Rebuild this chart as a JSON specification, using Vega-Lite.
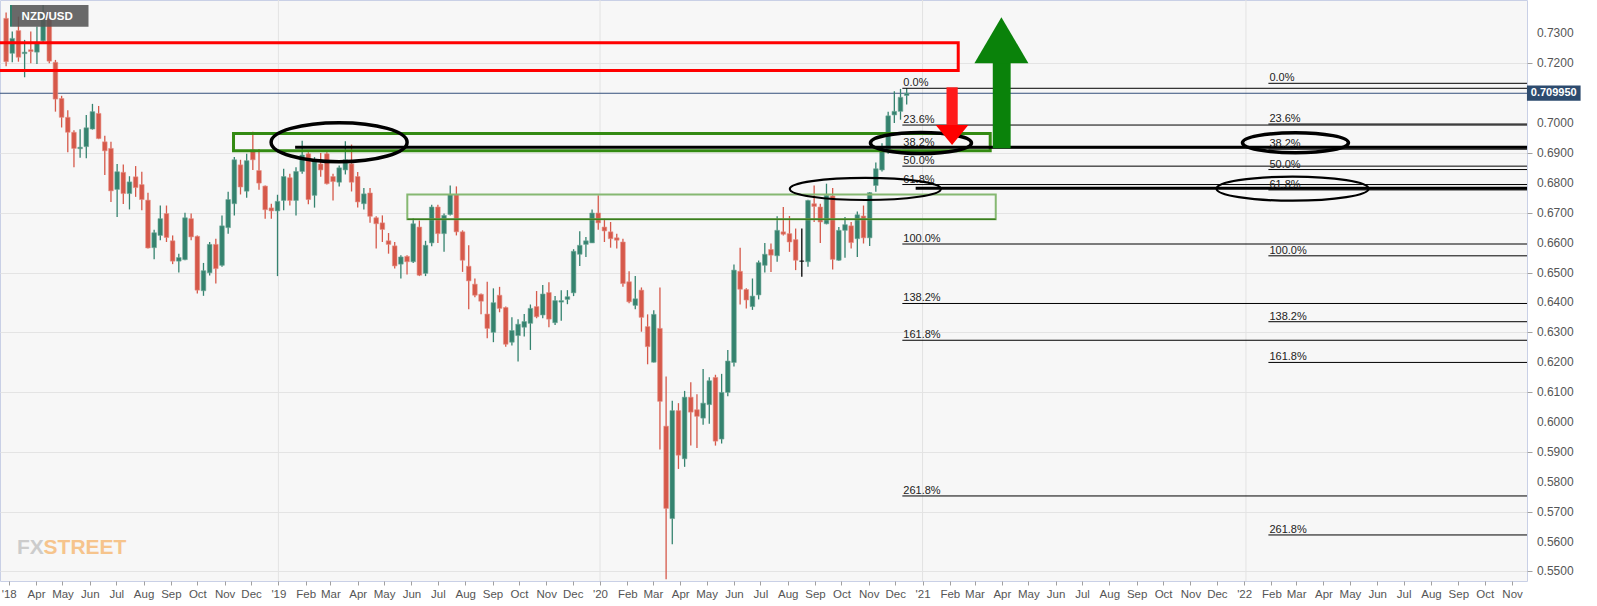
{
 "$schema": "https://vega.github.io/schema/vega-lite/v6.json",
 "width": 1527, "height": 581,
 "autosize": {"type": "none"},
 "padding": {"left": 0, "top": 0, "right": 70, "bottom": 25},
 "background": "#ffffff",
 "config": {
  "view": {"stroke": "#c9d0e6", "strokeWidth": 1, "fill": "#f7f7f7"},
  "axis": {"labelOverlap": false}
 },
 "datasets": {
  "candles": [
   {"d":"2018-02-26","o":0.7350,"h":0.7370,"l":0.7190,"c":0.7205},
   {"d":"2018-03-05","o":0.7233,"h":0.7306,"l":0.7203,"c":0.7283},
   {"d":"2018-03-12","o":0.7309,"h":0.7356,"l":0.7205,"c":0.7220},
   {"d":"2018-03-19","o":0.7232,"h":0.7278,"l":0.7153,"c":0.7237},
   {"d":"2018-03-26","o":0.7245,"h":0.7306,"l":0.7200,"c":0.7239},
   {"d":"2018-04-02","o":0.7237,"h":0.7323,"l":0.7197,"c":0.7267},
   {"d":"2018-04-09","o":0.7275,"h":0.7395,"l":0.7265,"c":0.7367},
   {"d":"2018-04-16","o":0.7350,"h":0.7367,"l":0.7200,"c":0.7207},
   {"d":"2018-04-23","o":0.7203,"h":0.7211,"l":0.7038,"c":0.7080},
   {"d":"2018-04-30","o":0.7082,"h":0.7091,"l":0.6985,"c":0.7019},
   {"d":"2018-05-07","o":0.7019,"h":0.7043,"l":0.6902,"c":0.6969},
   {"d":"2018-05-14","o":0.6969,"h":0.6976,"l":0.6852,"c":0.6915},
   {"d":"2018-05-21","o":0.6914,"h":0.6979,"l":0.6884,"c":0.6919},
   {"d":"2018-05-28","o":0.6921,"h":0.7027,"l":0.6882,"c":0.6984},
   {"d":"2018-06-04","o":0.6980,"h":0.7064,"l":0.6978,"c":0.7038},
   {"d":"2018-06-11","o":0.7032,"h":0.7057,"l":0.6946,"c":0.6948},
   {"d":"2018-06-18","o":0.6937,"h":0.6957,"l":0.6826,"c":0.6907},
   {"d":"2018-06-25","o":0.6915,"h":0.6937,"l":0.6736,"c":0.6773},
   {"d":"2018-07-02","o":0.6778,"h":0.6863,"l":0.6686,"c":0.6837},
   {"d":"2018-07-09","o":0.6835,"h":0.6861,"l":0.6729,"c":0.6764},
   {"d":"2018-07-16","o":0.6764,"h":0.6822,"l":0.6711,"c":0.6803},
   {"d":"2018-07-23","o":0.6820,"h":0.6856,"l":0.6753,"c":0.6784},
   {"d":"2018-07-30","o":0.6794,"h":0.6837,"l":0.6708,"c":0.6744},
   {"d":"2018-08-06","o":0.6742,"h":0.6767,"l":0.6580,"c":0.6582},
   {"d":"2018-08-13","o":0.6583,"h":0.6643,"l":0.6544,"c":0.6633},
   {"d":"2018-08-20","o":0.6624,"h":0.6724,"l":0.6608,"c":0.6680},
   {"d":"2018-08-27","o":0.6697,"h":0.6724,"l":0.6602,"c":0.6617},
   {"d":"2018-09-03","o":0.6606,"h":0.6624,"l":0.6528,"c":0.6538},
   {"d":"2018-09-10","o":0.6538,"h":0.6563,"l":0.6500,"c":0.6550},
   {"d":"2018-09-17","o":0.6543,"h":0.6700,"l":0.6541,"c":0.6683},
   {"d":"2018-09-24","o":0.6680,"h":0.6697,"l":0.6608,"c":0.6619},
   {"d":"2018-10-01","o":0.6621,"h":0.6624,"l":0.6430,"c":0.6441},
   {"d":"2018-10-08","o":0.6439,"h":0.6532,"l":0.6422,"c":0.6506},
   {"d":"2018-10-15","o":0.6499,"h":0.6602,"l":0.6490,"c":0.6594},
   {"d":"2018-10-22","o":0.6594,"h":0.6613,"l":0.6463,"c":0.6513},
   {"d":"2018-10-29","o":0.6524,"h":0.6691,"l":0.6519,"c":0.6656},
   {"d":"2018-11-05","o":0.6650,"h":0.6770,"l":0.6630,"c":0.6744},
   {"d":"2018-11-12","o":0.6730,"h":0.6886,"l":0.6691,"c":0.6877},
   {"d":"2018-11-19","o":0.6860,"h":0.6877,"l":0.6761,"c":0.6786},
   {"d":"2018-11-26","o":0.6772,"h":0.6897,"l":0.6750,"c":0.6874},
   {"d":"2018-12-03","o":0.6910,"h":0.6971,"l":0.6843,"c":0.6877},
   {"d":"2018-12-10","o":0.6841,"h":0.6913,"l":0.6777,"c":0.6799},
   {"d":"2018-12-17","o":0.6789,"h":0.6791,"l":0.6680,"c":0.6710},
   {"d":"2018-12-24","o":0.6716,"h":0.6730,"l":0.6680,"c":0.6706},
   {"d":"2018-12-31","o":0.6706,"h":0.6760,"l":0.6488,"c":0.6738},
   {"d":"2019-01-07","o":0.6741,"h":0.6847,"l":0.6708,"c":0.6821},
   {"d":"2019-01-14","o":0.6817,"h":0.6830,"l":0.6724,"c":0.6741},
   {"d":"2019-01-21","o":0.6741,"h":0.6852,"l":0.6691,"c":0.6838},
   {"d":"2019-01-28","o":0.6838,"h":0.6941,"l":0.6830,"c":0.6893},
   {"d":"2019-02-04","o":0.6897,"h":0.6902,"l":0.6728,"c":0.6744},
   {"d":"2019-02-11","o":0.6758,"h":0.6886,"l":0.6717,"c":0.6874},
   {"d":"2019-02-18","o":0.6863,"h":0.6900,"l":0.6820,"c":0.6843},
   {"d":"2019-02-25","o":0.6897,"h":0.6902,"l":0.6794,"c":0.6797},
   {"d":"2019-03-04","o":0.6821,"h":0.6830,"l":0.6741,"c":0.6804},
   {"d":"2019-03-11","o":0.6802,"h":0.6858,"l":0.6788,"c":0.6850},
   {"d":"2019-03-18","o":0.6843,"h":0.6939,"l":0.6828,"c":0.6877},
   {"d":"2019-03-25","o":0.6863,"h":0.6928,"l":0.6771,"c":0.6802},
   {"d":"2019-04-01","o":0.6821,"h":0.6836,"l":0.6717,"c":0.6736},
   {"d":"2019-04-08","o":0.6730,"h":0.6783,"l":0.6711,"c":0.6763},
   {"d":"2019-04-15","o":0.6766,"h":0.6783,"l":0.6666,"c":0.6688},
   {"d":"2019-04-22","o":0.6683,"h":0.6688,"l":0.6580,"c":0.6663},
   {"d":"2019-04-29","o":0.6666,"h":0.6691,"l":0.6602,"c":0.6644},
   {"d":"2019-05-06","o":0.6606,"h":0.6632,"l":0.6563,"c":0.6594},
   {"d":"2019-05-13","o":0.6589,"h":0.6602,"l":0.6513,"c":0.6522},
   {"d":"2019-05-20","o":0.6528,"h":0.6558,"l":0.6480,"c":0.6552},
   {"d":"2019-05-27","o":0.6554,"h":0.6558,"l":0.6493,"c":0.6536},
   {"d":"2019-06-03","o":0.6536,"h":0.6682,"l":0.6532,"c":0.6663},
   {"d":"2019-06-10","o":0.6652,"h":0.6674,"l":0.6488,"c":0.6491},
   {"d":"2019-06-17","o":0.6497,"h":0.6606,"l":0.6488,"c":0.6591},
   {"d":"2019-06-24","o":0.6599,"h":0.6727,"l":0.6588,"c":0.6719},
   {"d":"2019-07-01","o":0.6719,"h":0.6727,"l":0.6599,"c":0.6630},
   {"d":"2019-07-08","o":0.6630,"h":0.6697,"l":0.6569,"c":0.6691},
   {"d":"2019-07-15","o":0.6694,"h":0.6791,"l":0.6691,"c":0.6761},
   {"d":"2019-07-22","o":0.6760,"h":0.6788,"l":0.6624,"c":0.6636},
   {"d":"2019-07-29","o":0.6636,"h":0.6641,"l":0.6502,"c":0.6541},
   {"d":"2019-08-05","o":0.6521,"h":0.6591,"l":0.6377,"c":0.6472},
   {"d":"2019-08-12","o":0.6461,"h":0.6480,"l":0.6417,"c":0.6424},
   {"d":"2019-08-19","o":0.6427,"h":0.6430,"l":0.6360,"c":0.6404},
   {"d":"2019-08-26","o":0.6361,"h":0.6469,"l":0.6280,"c":0.6313},
   {"d":"2019-09-02","o":0.6300,"h":0.6447,"l":0.6267,"c":0.6399},
   {"d":"2019-09-09","o":0.6424,"h":0.6452,"l":0.6367,"c":0.6380},
   {"d":"2019-09-16","o":0.6383,"h":0.6386,"l":0.6252,"c":0.6260},
   {"d":"2019-09-23","o":0.6267,"h":0.6350,"l":0.6256,"c":0.6306},
   {"d":"2019-09-30","o":0.6289,"h":0.6344,"l":0.6202,"c":0.6327},
   {"d":"2019-10-07","o":0.6317,"h":0.6361,"l":0.6286,"c":0.6336},
   {"d":"2019-10-14","o":0.6330,"h":0.6393,"l":0.6241,"c":0.6380},
   {"d":"2019-10-21","o":0.6386,"h":0.6438,"l":0.6347,"c":0.6352},
   {"d":"2019-10-28","o":0.6358,"h":0.6458,"l":0.6347,"c":0.6428},
   {"d":"2019-11-04","o":0.6433,"h":0.6467,"l":0.6317,"c":0.6344},
   {"d":"2019-11-11","o":0.6332,"h":0.6421,"l":0.6324,"c":0.6406},
   {"d":"2019-11-18","o":0.6401,"h":0.6441,"l":0.6339,"c":0.6406},
   {"d":"2019-11-25","o":0.6410,"h":0.6441,"l":0.6394,"c":0.6419},
   {"d":"2019-12-02","o":0.6432,"h":0.6578,"l":0.6421,"c":0.6571},
   {"d":"2019-12-09","o":0.6561,"h":0.6638,"l":0.6522,"c":0.6591},
   {"d":"2019-12-16","o":0.6594,"h":0.6619,"l":0.6552,"c":0.6606},
   {"d":"2019-12-23","o":0.6599,"h":0.6711,"l":0.6599,"c":0.6699},
   {"d":"2019-12-30","o":0.6699,"h":0.6758,"l":0.6643,"c":0.6666},
   {"d":"2020-01-06","o":0.6652,"h":0.6680,"l":0.6602,"c":0.6639},
   {"d":"2020-01-13","o":0.6636,"h":0.6669,"l":0.6583,"c":0.6613},
   {"d":"2020-01-20","o":0.6616,"h":0.6630,"l":0.6580,"c":0.6608},
   {"d":"2020-01-27","o":0.6602,"h":0.6613,"l":0.6452,"c":0.6463},
   {"d":"2020-02-03","o":0.6469,"h":0.6504,"l":0.6397,"c":0.6402},
   {"d":"2020-02-10","o":0.6390,"h":0.6488,"l":0.6377,"c":0.6412},
   {"d":"2020-02-17","o":0.6441,"h":0.6450,"l":0.6302,"c":0.6350},
   {"d":"2020-02-24","o":0.6319,"h":0.6360,"l":0.6193,"c":0.6252},
   {"d":"2020-03-02","o":0.6200,"h":0.6374,"l":0.6199,"c":0.6360},
   {"d":"2020-03-09","o":0.6313,"h":0.6450,"l":0.5908,"c":0.6069},
   {"d":"2020-03-16","o":0.5986,"h":0.6152,"l":0.5474,"c":0.5711},
   {"d":"2020-03-23","o":0.5677,"h":0.6071,"l":0.5591,"c":0.6038},
   {"d":"2020-03-30","o":0.6038,"h":0.6063,"l":0.5843,"c":0.5889},
   {"d":"2020-04-06","o":0.5877,"h":0.6104,"l":0.5850,"c":0.6083},
   {"d":"2020-04-13","o":0.6083,"h":0.6133,"l":0.5921,"c":0.6033},
   {"d":"2020-04-20","o":0.6041,"h":0.6093,"l":0.5913,"c":0.6019},
   {"d":"2020-04-27","o":0.6013,"h":0.6177,"l":0.5991,"c":0.6063},
   {"d":"2020-05-04","o":0.6058,"h":0.6150,"l":0.5994,"c":0.6138},
   {"d":"2020-05-11","o":0.6149,"h":0.6158,"l":0.5921,"c":0.5936},
   {"d":"2020-05-18","o":0.5943,"h":0.6161,"l":0.5928,"c":0.6099},
   {"d":"2020-05-25","o":0.6099,"h":0.6241,"l":0.6086,"c":0.6204},
   {"d":"2020-06-01","o":0.6199,"h":0.6527,"l":0.6186,"c":0.6508},
   {"d":"2020-06-08","o":0.6504,"h":0.6583,"l":0.6393,"c":0.6444},
   {"d":"2020-06-15","o":0.6443,"h":0.6447,"l":0.6380,"c":0.6408},
   {"d":"2020-06-22","o":0.6386,"h":0.6480,"l":0.6375,"c":0.6421},
   {"d":"2020-06-29","o":0.6425,"h":0.6540,"l":0.6410,"c":0.6533},
   {"d":"2020-07-06","o":0.6524,"h":0.6599,"l":0.6500,"c":0.6561},
   {"d":"2020-07-13","o":0.6577,"h":0.6597,"l":0.6502,"c":0.6558},
   {"d":"2020-07-20","o":0.6556,"h":0.6688,"l":0.6536,"c":0.6641},
   {"d":"2020-07-27","o":0.6636,"h":0.6719,"l":0.6624,"c":0.6628},
   {"d":"2020-08-03","o":0.6630,"h":0.6689,"l":0.6569,"c":0.6602},
   {"d":"2020-08-10","o":0.6610,"h":0.6647,"l":0.6508,"c":0.6541},
   {"d":"2020-08-17","o":0.6538,"h":0.6647,"l":0.6486,"c":0.6538},
   {"d":"2020-08-24","o":0.6536,"h":0.6743,"l":0.6519,"c":0.6741},
   {"d":"2020-08-31","o":0.6730,"h":0.6791,"l":0.6669,"c":0.6721},
   {"d":"2020-09-07","o":0.6719,"h":0.6730,"l":0.6599,"c":0.6669},
   {"d":"2020-09-14","o":0.6663,"h":0.6797,"l":0.6661,"c":0.6758},
   {"d":"2020-09-21","o":0.6756,"h":0.6783,"l":0.6510,"c":0.6544},
   {"d":"2020-09-28","o":0.6541,"h":0.6652,"l":0.6539,"c":0.6641},
   {"d":"2020-10-05","o":0.6641,"h":0.6686,"l":0.6549,"c":0.6660},
   {"d":"2020-10-12","o":0.6656,"h":0.6669,"l":0.6580,"c":0.6600},
   {"d":"2020-10-19","o":0.6613,"h":0.6704,"l":0.6552,"c":0.6693},
   {"d":"2020-10-26","o":0.6689,"h":0.6724,"l":0.6597,"c":0.6616},
   {"d":"2020-11-02","o":0.6616,"h":0.6769,"l":0.6589,"c":0.6767},
   {"d":"2020-11-09","o":0.6791,"h":0.6868,"l":0.6770,"c":0.6847},
   {"d":"2020-11-16","o":0.6843,"h":0.6932,"l":0.6838,"c":0.6908},
   {"d":"2020-11-23","o":0.6913,"h":0.7038,"l":0.6897,"c":0.7024},
   {"d":"2020-11-30","o":0.7027,"h":0.7106,"l":0.7000,"c":0.7039},
   {"d":"2020-12-07","o":0.7039,"h":0.7114,"l":0.7011,"c":0.7086},
   {"d":"2020-12-14","o":0.7092,"h":0.7116,"l":0.7062,"c":0.70995}
  ],
  "fib": [
   {"d":"2020-12-09T02:00Z","d2":"2023-06-01","p":0.71161,"t":"0.0%"},
   {"d":"2020-12-09T02:00Z","d2":"2023-06-01","p":0.69932,"t":"23.6%"},
   {"d":"2020-12-09T02:00Z","d2":"2023-06-01","p":0.69172,"t":"38.2%"},
   {"d":"2020-12-09T02:00Z","d2":"2023-06-01","p":0.68557,"t":"50.0%"},
   {"d":"2020-12-09T02:00Z","d2":"2023-06-01","p":0.67942,"t":"61.8%"},
   {"d":"2020-12-09T02:00Z","d2":"2023-06-01","p":0.65953,"t":"100.0%"},
   {"d":"2020-12-09T02:00Z","d2":"2023-06-01","p":0.63964,"t":"138.2%"},
   {"d":"2020-12-09T02:00Z","d2":"2023-06-01","p":0.62734,"t":"161.8%"},
   {"d":"2020-12-09T02:00Z","d2":"2023-06-01","p":0.57526,"t":"261.8%"},
   {"d":"2022-01-28T12:00Z","d2":"2023-06-01","p":0.71328,"t":"0.0%"},
   {"d":"2022-01-28T12:00Z","d2":"2023-06-01","p":0.69966,"t":"23.6%"},
   {"d":"2022-01-28T12:00Z","d2":"2023-06-01","p":0.69124,"t":"38.2%"},
   {"d":"2022-01-28T12:00Z","d2":"2023-06-01","p":0.68443,"t":"50.0%"},
   {"d":"2022-01-28T12:00Z","d2":"2023-06-01","p":0.67762,"t":"61.8%"},
   {"d":"2022-01-28T12:00Z","d2":"2023-06-01","p":0.65558,"t":"100.0%"},
   {"d":"2022-01-28T12:00Z","d2":"2023-06-01","p":0.63354,"t":"138.2%"},
   {"d":"2022-01-28T12:00Z","d2":"2023-06-01","p":0.61992,"t":"161.8%"},
   {"d":"2022-01-28T12:00Z","d2":"2023-06-01","p":0.56222,"t":"261.8%"}
  ],
  "ylabels": [
   {"d":"2022-11-29T05:00Z","p":0.55,"t":"0.5500"},
   {"d":"2022-11-29T05:00Z","p":0.56,"t":"0.5600"},
   {"d":"2022-11-29T05:00Z","p":0.57,"t":"0.5700"},
   {"d":"2022-11-29T05:00Z","p":0.58,"t":"0.5800"},
   {"d":"2022-11-29T05:00Z","p":0.59,"t":"0.5900"},
   {"d":"2022-11-29T05:00Z","p":0.60,"t":"0.6000"},
   {"d":"2022-11-29T05:00Z","p":0.61,"t":"0.6100"},
   {"d":"2022-11-29T05:00Z","p":0.62,"t":"0.6200"},
   {"d":"2022-11-29T05:00Z","p":0.63,"t":"0.6300"},
   {"d":"2022-11-29T05:00Z","p":0.64,"t":"0.6400"},
   {"d":"2022-11-29T05:00Z","p":0.65,"t":"0.6500"},
   {"d":"2022-11-29T05:00Z","p":0.66,"t":"0.6600"},
   {"d":"2022-11-29T05:00Z","p":0.67,"t":"0.6700"},
   {"d":"2022-11-29T05:00Z","p":0.68,"t":"0.6800"},
   {"d":"2022-11-29T05:00Z","p":0.69,"t":"0.6900"},
   {"d":"2022-11-29T05:00Z","p":0.70,"t":"0.7000"},
   {"d":"2022-11-29T05:00Z","p":0.72,"t":"0.7200"},
   {"d":"2022-11-29T05:00Z","p":0.73,"t":"0.7300"}
  ]
 },
 "layer": [
  {"data": {"values": [{"d":"2019-01-01"},{"d":"2020-01-01"},{"d":"2021-01-01"},{"d":"2022-01-03"}]},
   "mark": {"type": "rule", "color": "#e3e3e3", "strokeWidth": 1},
   "encoding": {"x": {"field":"d","type":"temporal","title":null,"scale":{"type":"utc","domain":[1519495200000,1668236400000]}}}},
  {"data": {"values": [{"p":0.70995}]},
   "mark": {"type": "rule", "color": "#34507c", "strokeWidth": 1},
   "encoding": {"y": {"field":"p","type":"quantitative","title":null,"scale":{"domain":[0.54682,0.74114],"zero":false,"nice":false}}}},
  {"data": {"name": "candles"},
   "mark": {"type": "rule", "strokeWidth": 1.3},
   "encoding": {
    "x": {"field":"d","type":"temporal","title":null,"scale":{"type":"utc","domain":[1519495200000,1668236400000]},
      "axis":{"title":null,"orient":"bottom","grid":false,"domain":false,"tickCount":{"interval":"month","step":1},"tickSize":4,"tickColor":"#a0a0a0","labelPadding":3,"labelFont":"Liberation Sans Narrow, Liberation Sans","labelFontSize":11.5,"labelColor":"#555555","labelOverlap":false,"labelFlush":false,"labelBound":false,
      "labelExpr":"utcmonth(datum.value) == 0 || (utcyear(datum.value) == 2018 && utcmonth(datum.value) == 2) ? \"'\" + utcFormat(datum.value, '%y') : utcFormat(datum.value, '%b')"}},
    "y": {"field":"l","type":"quantitative","title":null,"scale":{"domain":[0.54682,0.74114],"zero":false,"nice":false},
      "axis":{"title":null,"orient":"right","values":[0.55,0.56,0.57,0.58,0.59,0.6,0.61,0.62,0.63,0.64,0.65,0.66,0.67,0.68,0.69,0.7,0.72,0.73],"labels":false,"grid":true,"gridColor":"#e4e4e4","gridWidth":1,"domain":false,"tickSize":5,"tickColor":"#a0a0a0"}},
    "y2": {"field":"h"},
    "color": {"condition":[{"test":"datum.c > datum.o","value":"#35836f"},{"test":"datum.c < datum.o","value":"#d6594a"}],"value":"#000000"}
   }},
  {"data": {"name": "candles"},
   "mark": {"type": "bar", "width": 4.6, "strokeWidth": 0.6},
   "encoding": {
    "x": {"field":"d","type":"temporal","title":null,"scale":{"type":"utc","domain":[1519495200000,1668236400000]}},
    "y": {"field":"o","type":"quantitative","title":null,"scale":{"domain":[0.54682,0.74114],"zero":false,"nice":false}},
    "y2": {"field":"c"},
    "color": {"condition":[{"test":"datum.c > datum.o","value":"#35836f"},{"test":"datum.c < datum.o","value":"#d6594a"}],"value":"#000000"},
    "stroke": {"condition":[{"test":"datum.c > datum.o","value":"#6fa797"},{"test":"datum.c < datum.o","value":"#e58f84"}],"value":"#000000"}
   }},
  {"data": {"values": [{"d":"2018-01-01","d2":"2021-02-10T12:00Z","p":0.72682,"p2":0.71756}]},
   "mark": {"type": "rect", "filled": false, "color": "#ff0000", "strokeWidth": 3, "clip": true},
   "encoding": {
    "x": {"field":"d","type":"temporal","title":null,"scale":{"type":"utc","domain":[1519495200000,1668236400000]}},
    "x2": {"field":"d2"},
    "y": {"field":"p","type":"quantitative","title":null,"scale":{"domain":[0.54682,0.74114],"zero":false,"nice":false}},
    "y2": {"field":"p2"}}},
  {"data": {"values": [{"d":"2019-05-27T07:00Z","d2":"2021-03-25T02:00Z","p":0.67609,"p2":0.66783}]},
   "mark": {"type": "rect", "filled": false, "color": "#86b872", "strokeWidth": 2},
   "encoding": {
    "x": {"field":"d","type":"temporal","title":null,"scale":{"type":"utc","domain":[1519495200000,1668236400000]}},
    "x2": {"field":"d2"},
    "y": {"field":"p","type":"quantitative","title":null,"scale":{"domain":[0.54682,0.74114],"zero":false,"nice":false}},
    "y2": {"field":"p2"}}},
  {"data": {"values": [{"d":"2019-05-27T07:00Z","d2":"2021-03-25T02:00Z","p":0.66783}]},
   "mark": {"type": "rule", "color": "#3a7d1e", "strokeWidth": 1.5},
   "encoding": {
    "x": {"field":"d","type":"temporal","title":null,"scale":{"type":"utc","domain":[1519495200000,1668236400000]}},
    "x2": {"field":"d2"},
    "y": {"field":"p","type":"quantitative","title":null,"scale":{"domain":[0.54682,0.74114],"zero":false,"nice":false}}}},
  {"data": {"values": [{"d":"2018-11-11T02:00Z","d2":"2021-03-18T19:00Z","p":0.69649,"p2":0.69075}]},
   "mark": {"type": "rect", "filled": false, "color": "#338a12", "strokeWidth": 3},
   "encoding": {
    "x": {"field":"d","type":"temporal","title":null,"scale":{"type":"utc","domain":[1519495200000,1668236400000]}},
    "x2": {"field":"d2"},
    "y": {"field":"p","type":"quantitative","title":null,"scale":{"domain":[0.54682,0.74114],"zero":false,"nice":false}},
    "y2": {"field":"p2"}}},
  {"data": {"name": "fib"},
   "mark": {"type": "rule", "color": "#000000", "strokeWidth": 1, "clip": true},
   "encoding": {
    "x": {"field":"d","type":"temporal","title":null,"scale":{"type":"utc","domain":[1519495200000,1668236400000]}},
    "x2": {"field":"d2"},
    "y": {"field":"p","type":"quantitative","title":null,"scale":{"domain":[0.54682,0.74114],"zero":false,"nice":false}}}},
  {"data": {"values": [{"d":"2019-01-20","d2":"2023-06-01","p":0.69187},{"d":"2020-12-24T05:00Z","d2":"2023-06-01","p":0.67816}]},
   "mark": {"type": "rule", "color": "#000000", "strokeWidth": 3, "clip": true},
   "encoding": {
    "x": {"field":"d","type":"temporal","title":null,"scale":{"type":"utc","domain":[1519495200000,1668236400000]}},
    "x2": {"field":"d2"},
    "y": {"field":"p","type":"quantitative","title":null,"scale":{"domain":[0.54682,0.74114],"zero":false,"nice":false}}}},
  {"data": {"name": "fib"},
   "mark": {"type": "text", "align": "left", "baseline": "alphabetic", "dx": 1, "dy": -2, "font": "Liberation Sans", "fontSize": 11, "color": "#222222"},
   "encoding": {
    "x": {"field":"d","type":"temporal","title":null,"scale":{"type":"utc","domain":[1519495200000,1668236400000]}},
    "y": {"field":"p","type":"quantitative","title":null,"scale":{"domain":[0.54682,0.74114],"zero":false,"nice":false}},
    "text": {"field":"t"}}},
  {"data": {"name": "ylabels"},
   "mark": {"type": "text", "align": "left", "baseline": "middle", "font": "Liberation Sans", "fontSize": 12, "color": "#555555", "clip": false},
   "encoding": {
    "x": {"field":"d","type":"temporal","title":null,"scale":{"type":"utc","domain":[1519495200000,1668236400000]}},
    "y": {"field":"p","type":"quantitative","title":null,"scale":{"domain":[0.54682,0.74114],"zero":false,"nice":false}},
    "text": {"field":"t"}}},
  {"data": {"values": [{"d":"2019-03-10T21:36Z","p":0.69358}]},
   "mark": {"type": "point", "filled": false, "stroke": "#000000", "strokeWidth": 3.5, "opacity": 1, "size": 18496,
     "shape": "M-1,0C-1,-0.159,-0.552,-0.287,0,-0.287C0.552,-0.287,1,-0.159,1,0C1,0.159,0.552,0.287,0,0.287C-0.552,0.287,-1,0.159,-1,0Z"},
   "encoding": {
    "x": {"field":"d","type":"temporal","title":null,"scale":{"type":"utc","domain":[1519495200000,1668236400000]}},
    "y": {"field":"p","type":"quantitative","title":null,"scale":{"domain":[0.54682,0.74114],"zero":false,"nice":false}}}},
  {"data": {"values": [{"d":"2020-12-30T05:00Z","p":0.69331}]},
   "mark": {"type": "point", "filled": false, "stroke": "#000000", "strokeWidth": 3.5, "opacity": 1, "size": 10201,
     "shape": "M-1,0C-1,-0.115,-0.552,-0.208,0,-0.208C0.552,-0.208,1,-0.115,1,0C1,0.115,0.552,0.208,0,0.208C-0.552,0.208,-1,0.115,-1,0Z"},
   "encoding": {
    "x": {"field":"d","type":"temporal","title":null,"scale":{"type":"utc","domain":[1519495200000,1668236400000]}},
    "y": {"field":"p","type":"quantitative","title":null,"scale":{"domain":[0.54682,0.74114],"zero":false,"nice":false}}}},
  {"data": {"values": [{"d":"2022-02-28T05:00Z","p":0.69341}]},
   "mark": {"type": "point", "filled": false, "stroke": "#000000", "strokeWidth": 3.5, "opacity": 1, "size": 11236,
     "shape": "M-1,0C-1,-0.104,-0.552,-0.189,0,-0.189C0.552,-0.189,1,-0.104,1,0C1,0.104,0.552,0.189,0,0.189C-0.552,0.189,-1,0.104,-1,0Z"},
   "encoding": {
    "x": {"field":"d","type":"temporal","title":null,"scale":{"type":"utc","domain":[1519495200000,1668236400000]}},
    "y": {"field":"p","type":"quantitative","title":null,"scale":{"domain":[0.54682,0.74114],"zero":false,"nice":false}}}},
  {"data": {"values": [{"d":"2020-10-28T02:00Z","p":0.67794}]},
   "mark": {"type": "point", "filled": false, "stroke": "#000000", "strokeWidth": 2.2, "opacity": 1, "size": 22801,
     "shape": "M-1,0C-1,-0.081,-0.552,-0.146,0,-0.146C0.552,-0.146,1,-0.081,1,0C1,0.081,0.552,0.146,0,0.146C-0.552,0.146,-1,0.081,-1,0Z"},
   "encoding": {
    "x": {"field":"d","type":"temporal","title":null,"scale":{"type":"utc","domain":[1519495200000,1668236400000]}},
    "y": {"field":"p","type":"quantitative","title":null,"scale":{"domain":[0.54682,0.74114],"zero":false,"nice":false}}}},
  {"data": {"values": [{"d":"2022-02-24T22:00Z","p":0.67803}]},
   "mark": {"type": "point", "filled": false, "stroke": "#000000", "strokeWidth": 2.2, "opacity": 1, "size": 23104,
     "shape": "M-1,0C-1,-0.087,-0.552,-0.158,0,-0.158C0.552,-0.158,1,-0.087,1,0C1,0.087,0.552,0.158,0,0.158C-0.552,0.158,-1,0.087,-1,0Z"},
   "encoding": {
    "x": {"field":"d","type":"temporal","title":null,"scale":{"type":"utc","domain":[1519495200000,1668236400000]}},
    "y": {"field":"p","type":"quantitative","title":null,"scale":{"domain":[0.54682,0.74114],"zero":false,"nice":false}}}},
  {"data": {"values": [{"d":"2021-01-28T05:00Z","d2":"2021-02-09T22:00Z","p":0.71194,"p2":0.6990}]},
   "mark": {"type": "rect", "color": "#ff1a1a"},
   "encoding": {
    "x": {"field":"d","type":"temporal","title":null,"scale":{"type":"utc","domain":[1519495200000,1668236400000]}},
    "x2": {"field":"d2"},
    "y": {"field":"p","type":"quantitative","title":null,"scale":{"domain":[0.54682,0.74114],"zero":false,"nice":false}},
    "y2": {"field":"p2"}}},
  {"data": {"values": [{"d":"2021-02-03T12:00Z","p":0.69599}]},
   "mark": {"type": "point", "filled": true, "color": "#ff0000", "opacity": 1, "size": 1069, "shape": "M-1,-0.612L1,-0.612L0,0.612Z"},
   "encoding": {
    "x": {"field":"d","type":"temporal","title":null,"scale":{"type":"utc","domain":[1519495200000,1668236400000]}},
    "y": {"field":"p","type":"quantitative","title":null,"scale":{"domain":[0.54682,0.74114],"zero":false,"nice":false}}}},
  {"data": {"values": [{"d":"2021-03-21T17:00Z","d2":"2021-04-11T00:00Z","p":0.72107,"p2":0.69154}]},
   "mark": {"type": "rect", "color": "#0a820a"},
   "encoding": {
    "x": {"field":"d","type":"temporal","title":null,"scale":{"type":"utc","domain":[1519495200000,1668236400000]}},
    "x2": {"field":"d2"},
    "y": {"field":"p","type":"quantitative","title":null,"scale":{"domain":[0.54682,0.74114],"zero":false,"nice":false}},
    "y2": {"field":"p2"}}},
  {"data": {"values": [{"d":"2021-03-31T12:00Z","p":0.72769}]},
   "mark": {"type": "point", "filled": true, "color": "#0a820a", "opacity": 1, "size": 2916, "shape": "M-1,0.852L1,0.852L0,-0.852Z"},
   "encoding": {
    "x": {"field":"d","type":"temporal","title":null,"scale":{"type":"utc","domain":[1519495200000,1668236400000]}},
    "y": {"field":"p","type":"quantitative","title":null,"scale":{"domain":[0.54682,0.74114],"zero":false,"nice":false}}}},
  {"data": {"values": [{"d":"2018-03-04T14:00Z","d2":"2018-05-30T12:00Z","p":0.73947,"p2":0.73221}]},
   "mark": {"type": "rect", "color": "#555555", "opacity": 0.88},
   "encoding": {
    "x": {"field":"d","type":"temporal","title":null,"scale":{"type":"utc","domain":[1519495200000,1668236400000]}},
    "x2": {"field":"d2"},
    "y": {"field":"p","type":"quantitative","title":null,"scale":{"domain":[0.54682,0.74114],"zero":false,"nice":false}},
    "y2": {"field":"p2"}}},
  {"data": {"values": [{"d":"2018-03-02T10:00Z","d2":"2018-03-04T17:00Z","p":0.73947,"p2":0.73221}]},
   "mark": {"type": "rect", "color": "#2f7f6a"},
   "encoding": {
    "x": {"field":"d","type":"temporal","title":null,"scale":{"type":"utc","domain":[1519495200000,1668236400000]}},
    "x2": {"field":"d2"},
    "y": {"field":"p","type":"quantitative","title":null,"scale":{"domain":[0.54682,0.74114],"zero":false,"nice":false}},
    "y2": {"field":"p2"}}},
  {"data": {"values": [{"d":"2018-03-15T14:00Z","p":0.73562,"t":"NZD/USD"}]},
   "mark": {"type": "text", "align": "left", "baseline": "middle", "font": "Liberation Sans", "fontWeight": "bold", "fontSize": 11.5, "color": "#ffffff"},
   "encoding": {
    "x": {"field":"d","type":"temporal","title":null,"scale":{"type":"utc","domain":[1519495200000,1668236400000]}},
    "y": {"field":"p","type":"quantitative","title":null,"scale":{"domain":[0.54682,0.74114],"zero":false,"nice":false}},
    "text": {"field":"t"}}},
  {"data": {"values": [{"d":"2018-03-10T07:00Z","p":0.55786,"t":"FX"}]},
   "mark": {"type": "text", "align": "left", "baseline": "middle", "font": "Liberation Sans", "fontWeight": "bold", "fontSize": 21, "color": "#cccccc"},
   "encoding": {
    "x": {"field":"d","type":"temporal","title":null,"scale":{"type":"utc","domain":[1519495200000,1668236400000]}},
    "y": {"field":"p","type":"quantitative","title":null,"scale":{"domain":[0.54682,0.74114],"zero":false,"nice":false}},
    "text": {"field":"t"}}},
  {"data": {"values": [{"d":"2018-04-09T12:00Z","p":0.55786,"t":"STREET"}]},
   "mark": {"type": "text", "align": "left", "baseline": "middle", "font": "Liberation Sans", "fontWeight": "bold", "fontSize": 21, "color": "#f6c48c"},
   "encoding": {
    "x": {"field":"d","type":"temporal","title":null,"scale":{"type":"utc","domain":[1519495200000,1668236400000]}},
    "y": {"field":"p","type":"quantitative","title":null,"scale":{"domain":[0.54682,0.74114],"zero":false,"nice":false}},
    "text": {"field":"t"}}},
  {"data": {"values": [{"d":"2022-11-17T22:00Z","d2":"2023-01-17T19:00Z","p":0.71254,"p2":0.70742}]},
   "mark": {"type": "rect", "color": "#2d4b6e", "clip": false},
   "encoding": {
    "x": {"field":"d","type":"temporal","title":null,"scale":{"type":"utc","domain":[1519495200000,1668236400000]}},
    "x2": {"field":"d2"},
    "y": {"field":"p","type":"quantitative","title":null,"scale":{"domain":[0.54682,0.74114],"zero":false,"nice":false}},
    "y2": {"field":"p2"}}},
  {"data": {"values": [{"d":"2022-12-18T07:00Z","p":0.70995,"t":"0.709950"}]},
   "mark": {"type": "text", "align": "center", "baseline": "middle", "font": "Liberation Sans", "fontWeight": "bold", "fontSize": 11, "color": "#ffffff", "clip": false},
   "encoding": {
    "x": {"field":"d","type":"temporal","title":null,"scale":{"type":"utc","domain":[1519495200000,1668236400000]}},
    "y": {"field":"p","type":"quantitative","title":null,"scale":{"domain":[0.54682,0.74114],"zero":false,"nice":false}},
    "text": {"field":"t"}}}
 ]
}
